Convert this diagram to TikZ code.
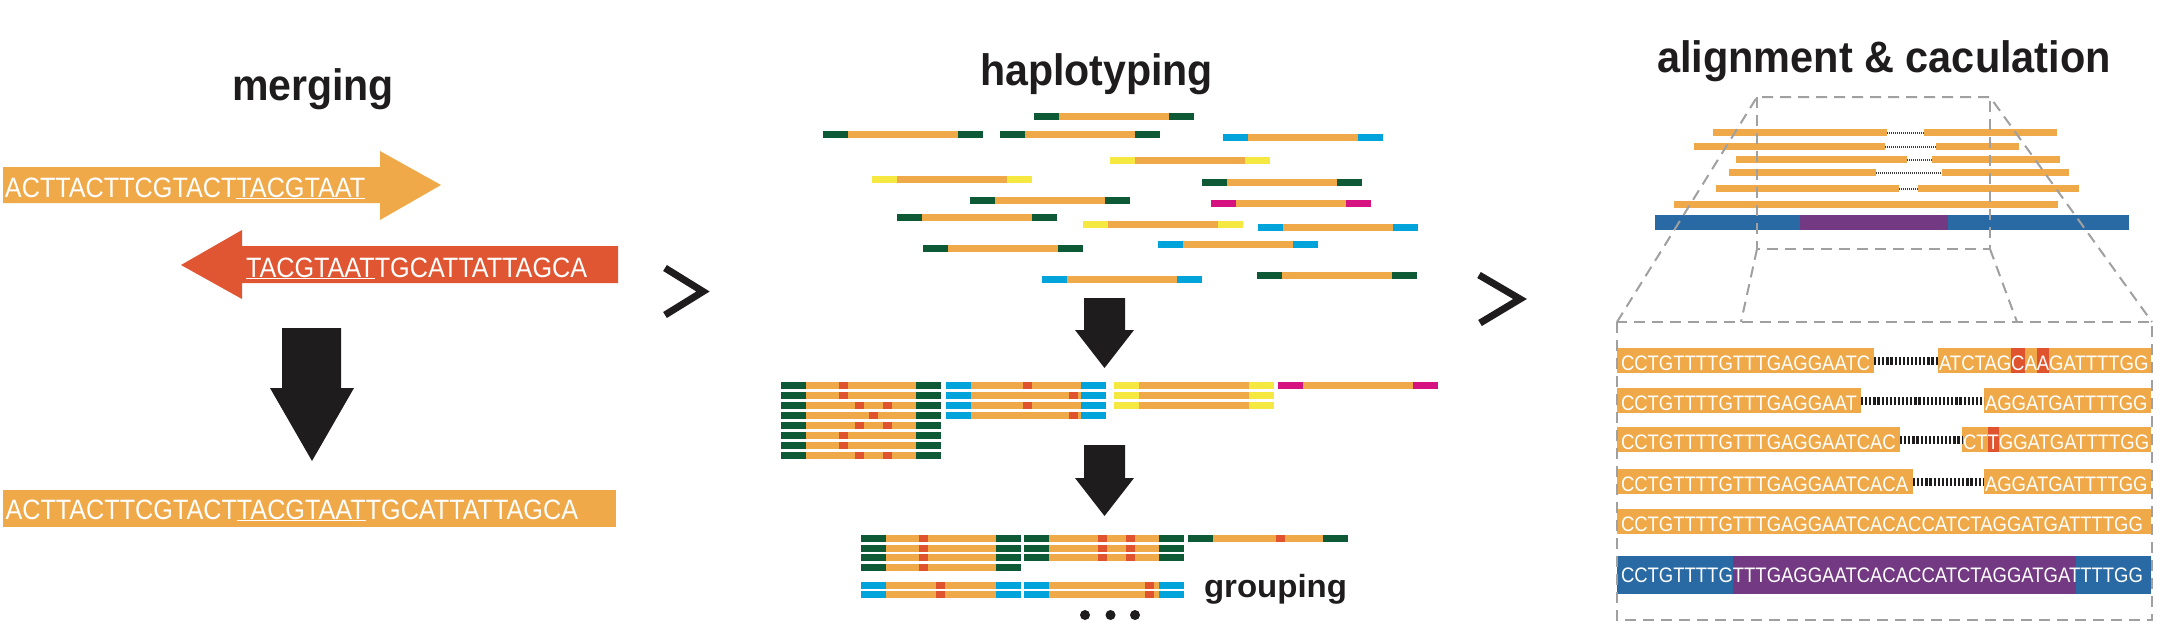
\documentclass[tikz,border=0pt]{standalone}
\usepackage{fontspec}
\usepackage{graphicx}
\setmainfont{Liberation Sans}
\newfontfamily\seqfont[FakeStretch=0.9]{Liberation Sans}
\newfontfamily\alnfont[FakeStretch=0.88]{Liberation Sans}
\definecolor{orangeR}{HTML}{F0A948}
\definecolor{redA}{HTML}{E05532}
\definecolor{markred}{HTML}{E0532F}
\definecolor{greenR}{HTML}{0E5A37}
\definecolor{cyanR}{HTML}{00A3DA}
\definecolor{yellowR}{HTML}{F5E840}
\definecolor{magR}{HTML}{D61280}
\definecolor{blueB}{HTML}{296AA4}
\definecolor{purpleP}{HTML}{743983}
\definecolor{inkblack}{HTML}{1E1C1C}
\definecolor{grayD}{HTML}{A0A0A0}
\newcommand\ulseq[1]{\setbox0\hbox{#1}\rlap{\rule[-1.6pt]{\wd0}{1pt}}\box0}
\newcommand\hlseq[1]{\setbox0\hbox{#1}\rlap{\color{markred}\rule[-3pt]{\wd0}{25pt}}\box0}
\newcommand\hread[3]{%
  \fill[orangeR] (#1,#2) rectangle ++(160,7);
  \fill[#3] (#1,#2) rectangle ++(25,7);
  \fill[#3] (#1+135,#2) rectangle ++(25,7);}
\newcommand\hmark[2]{\fill[markred] (#1,#2) rectangle ++(9,7);}
\tikzset{
  title/.style={font=\fontsize{44}{50}\selectfont\bfseries, text=inkblack, anchor=base west},
  seqtext/.style={font=\seqfont\fontsize{28}{30}\selectfont, text=white, anchor=base west},
  alntext/.style={font=\alnfont\fontsize{21}{24}\selectfont, text=white, anchor=base west},
  chevron/.style={draw=inkblack, line width=7pt, miter limit=10},
  gdash/.style={draw=grayD, line width=2pt, dash pattern=on 11pt off 7pt},
  thinlink/.style={draw=inkblack!85, line width=2pt, dash pattern=on 1pt off 1pt},
  thicklink/.style={draw=inkblack, line width=8pt, dash pattern=on 2.2pt off 1.9pt},
}
\begin{document}
\begin{tikzpicture}[x=1pt,y=-1pt, every node/.style={inner sep=0pt,outer sep=0pt}]
\useasboundingbox (0,0) rectangle (2166,625);

% ---------------- merging ----------------
\node[title] (tmerge) at (232,100) {\resizebox{162pt}{\height}{merging}};
\fill[orangeR] (3,167) -- (380,167) -- (380,151) -- (441,185) -- (380,220) -- (380,203) -- (3,203) -- cycle;
\node[seqtext] (s1) at (5,197) {ACTTACTTCGTACT\ulseq{TACGTAAT}};
\fill[redA] (618,246) -- (242,246) -- (242,230) -- (181,265) -- (242,299) -- (242,283) -- (618,283) -- cycle;
\node[seqtext] (s2) at (246,277) {\ulseq{TACGTAAT}TGCATTATTAGCA};
\fill[inkblack] (282,328) -- (341,328) -- (341,388) -- (354,388) -- (312,461) -- (270,388) -- (282,388) -- cycle;
\fill[orangeR] (3,490) rectangle (616,527);
\node[seqtext] (s3) at (5.5,519) {ACTTACTTCGTACT\ulseq{TACGTAAT}TGCATTATTAGCA};

\draw[chevron] (665,268) -- (703,291.5) -- (665,315);

% ---------------- haplotyping ----------------
\node[title] (thaplo) at (980,85) {\resizebox{233pt}{\height}{haplotyping}};
\hread{1034}{113}{greenR}
\hread{823}{131}{greenR}
\hread{1000}{131}{greenR}
\hread{1223}{134}{cyanR}
\hread{1110}{157}{yellowR}
\hread{872}{176}{yellowR}
\hread{1202}{179}{greenR}
\hread{970}{197}{greenR}
\hread{1211}{200}{magR}
\hread{897}{214}{greenR}
\hread{1083}{221}{yellowR}
\hread{1258}{224}{cyanR}
\hread{1158}{241}{cyanR}
\hread{923}{245}{greenR}
\hread{1042}{276}{cyanR}
\hread{1257}{272}{greenR}

\fill[inkblack] (1084,298) -- (1125,298) -- (1125,330) -- (1134,330) -- (1104.5,368) -- (1075,330) -- (1084,330) -- cycle;

% haplotype groups
\hread{781}{382}{greenR} \hmark{839}{382}
\hread{781}{392}{greenR} \hmark{839}{392}
\hread{781}{402}{greenR} \hmark{855}{402} \hmark{883}{402}
\hread{781}{412}{greenR} \hmark{869}{412}
\hread{781}{422}{greenR} \hmark{855}{422} \hmark{883}{422}
\hread{781}{432}{greenR} \hmark{839}{432}
\hread{781}{442}{greenR} \hmark{839}{442}
\hread{781}{452}{greenR} \hmark{855}{452} \hmark{883}{452}

\hread{946}{382}{cyanR} \hmark{1023}{382}
\hread{946}{392}{cyanR} \hmark{1069}{392}
\hread{946}{402}{cyanR} \hmark{1023}{402}
\hread{946}{412}{cyanR} \hmark{1069}{412}

\hread{1114}{382}{yellowR}
\hread{1114}{392}{yellowR}
\hread{1114}{402}{yellowR}

\hread{1278}{382}{magR}

\fill[inkblack] (1084,445) -- (1125,445) -- (1125,478) -- (1134,478) -- (1104.5,516) -- (1075,478) -- (1084,478) -- cycle;

% grouped
\hread{861}{535}{greenR} \hmark{919}{535}
\hread{861}{544.7}{greenR} \hmark{919}{544.7}
\hread{861}{554.3}{greenR} \hmark{919}{554.3}
\hread{861}{564}{greenR} \hmark{919}{564}
\hread{1024}{535}{greenR} \hmark{1098}{535} \hmark{1126}{535}
\hread{1024}{544.7}{greenR} \hmark{1098}{544.7} \hmark{1126}{544.7}
\hread{1024}{554.3}{greenR} \hmark{1098}{554.3} \hmark{1126}{554.3}
\hread{1188}{535}{greenR} \hmark{1276}{535}
\hread{861}{582.3}{cyanR} \hmark{936}{582.3}
\hread{861}{591}{cyanR} \hmark{936}{591}
\hread{1024}{582.3}{cyanR} \hmark{1145}{582.3}
\hread{1024}{591}{cyanR} \hmark{1145}{591}

\node[anchor=base west, font=\fontsize{32}{36}\selectfont\bfseries, text=inkblack] (tgroup) at (1204,597) {\resizebox{143pt}{\height}{grouping}};
\fill[inkblack] (1085,615) circle (5pt) (1110.5,615) circle (5pt) (1135,615) circle (5pt);

\draw[chevron] (1479,275) -- (1520,299) -- (1480,323);

% ---------------- alignment ----------------
\node[title] (talign) at (1657,72) {\resizebox{454pt}{\height}{alignment \& caculation}};
\fill[orangeR] (1713,129) rectangle (1887,136);
\fill[orangeR] (1924,129) rectangle (2057,136);
\draw[thinlink] (1887,132.5) -- (1924,132.5);
\fill[orangeR] (1694,143) rectangle (1885,150);
\fill[orangeR] (1936,143) rectangle (2019,150);
\draw[thinlink] (1885,146.5) -- (1936,146.5);
\fill[orangeR] (1736,156) rectangle (1907,163);
\fill[orangeR] (1932,156) rectangle (2060,163);
\draw[thinlink] (1907,159.5) -- (1932,159.5);
\fill[orangeR] (1729,169) rectangle (1876,176);
\fill[orangeR] (1942,169) rectangle (2069,176);
\draw[thinlink] (1876,172.5) -- (1942,172.5);
\fill[orangeR] (1716,185) rectangle (1899,192);
\fill[orangeR] (1918,185) rectangle (2079,192);
\draw[thinlink] (1899,188.5) -- (1918,188.5);
\fill[orangeR] (1674,201) rectangle (2058,208);
\fill[blueB] (1655,215) rectangle (2129,230);
\fill[purpleP] (1800,215) rectangle (1948,230);

% zoomed rows
\fill[orangeR] (1617,348) rectangle (1874,373);
\fill[orangeR] (1938,348) rectangle (2151,373);
\draw[thicklink] (1874,360.5) -- (1938,360.5);
\node[alntext] (a1l) at (1621,370) {CCTGTTTTGTTTGAGGAATC};
\node[alntext] (a1r) at (1939,370) {ATCTAG\hlseq{C}A\hlseq{A}GATTTTGG};

\fill[orangeR] (1617,388) rectangle (1861,413);
\fill[orangeR] (1984,388) rectangle (2151,413);
\draw[thicklink] (1861,400.5) -- (1984,400.5);
\node[alntext] (a2l) at (1621,410) {CCTGTTTTGTTTGAGGAAT};
\node[alntext] (a2r) at (1985,410) {AGGATGATTTTGG};

\fill[orangeR] (1617,427) rectangle (1900,452);
\fill[orangeR] (1962,427) rectangle (2151,452);
\draw[thicklink] (1900,439.5) -- (1962,439.5);
\node[alntext] (a3l) at (1621,449) {CCTGTTTTGTTTGAGGAATCAC};
\node[alntext] (a3r) at (1963,449) {CT\hlseq{T}GGATGATTTTGG};

\fill[orangeR] (1617,469) rectangle (1913,494);
\fill[orangeR] (1984,469) rectangle (2151,494);
\draw[thicklink] (1913,481.5) -- (1984,481.5);
\node[alntext] (a4l) at (1621,491) {CCTGTTTTGTTTGAGGAATCACA};
\node[alntext] (a4r) at (1985,491) {AGGATGATTTTGG};

\fill[orangeR] (1617,509) rectangle (2151,534);
\node[alntext] (a5) at (1621,531) {CCTGTTTTGTTTGAGGAATCACACCATCTAGGATGATTTTGG};

\fill[blueB] (1617,556) rectangle (2151,594);
\fill[purpleP] (1733,556) rectangle (2076,594);
\node[alntext] (a6) at (1621,582) {CCTGTTTTGTTTGAGGAATCACACCATCTAGGATGATTTTGG};

% dashed zoom guides
\draw[gdash] (1617,322) -- (1757,97) -- (1990,97) -- (2152,322);
\draw[gdash] (1757,97) -- (1757,249) -- (1990,249) -- (1990,97);
\draw[gdash] (1757,249) -- (1741,322);
\draw[gdash] (1990,249) -- (2017,322);
\draw[gdash] (1617,322) rectangle (2152,620);
\end{tikzpicture}
\end{document}
